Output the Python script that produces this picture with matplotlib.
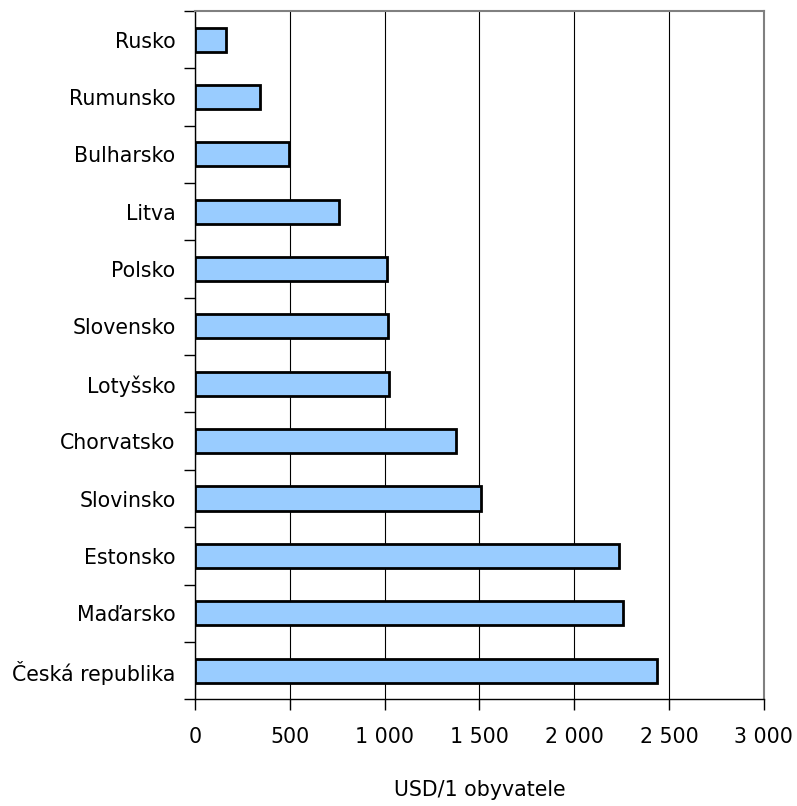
import matplotlib.pyplot as plt
from matplotlib.ticker import FuncFormatter
import numpy as np

# HDP na obyvatele (USD), shora dolu jak v grafu
countries = ["Rusko", "Rumunsko", "Bulharsko", "Litva", "Polsko", "Slovensko",
             "Lotyšsko", "Chorvatsko", "Slovinsko", "Estonsko", "Maďarsko",
             "Česká republika"]
values = [162, 343, 496, 760, 1011, 1020, 1023, 1375, 1510, 2238, 2259, 2435]

plt.rcParams['font.family'] = ['DejaVu Sans']

fig = plt.figure(figsize=(7.97, 8.06), dpi=100)
ax = fig.add_axes([0.2447, 0.1324, 0.9582 - 0.2447, 0.9864 - 0.1324])

y = np.arange(len(countries))
ax.barh(y, values, height=0.42, color='#99ccff', edgecolor='black', linewidth=2, zorder=3)

ax.set_ylim(len(countries) - 0.5, -0.5)
ax.set_xlim(0, 3000)
ax.set_xticks(np.arange(0, 3001, 500))
ax.xaxis.set_major_formatter(FuncFormatter(lambda v, p: f"{int(v):,}".replace(",", " ")))

# popisky kategorii bez ticku, ticky mezi kategoriemi
ax.set_yticks(y)
ax.set_yticklabels(countries, fontsize=14.8)
ax.tick_params(axis='y', length=0, pad=14)
ax.set_yticks(np.arange(-0.5, len(countries), 1), minor=True)
ax.tick_params(axis='y', which='minor', length=8, width=1, direction='out')
ax.tick_params(axis='x', length=8, width=1, labelsize=14.8, pad=12)

ax.grid(axis='x', color='black', linewidth=0.8, zorder=0)
ax.spines['top'].set_color('#808080')
ax.spines['right'].set_color('#808080')
ax.spines['top'].set_linewidth(1.5)
ax.spines['right'].set_linewidth(1.5)
ax.spines['left'].set_linewidth(1)
ax.spines['bottom'].set_linewidth(1)

ax.set_xlabel("USD/1 obyvatele", fontsize=14.8, labelpad=24)

fig.savefig("out.png", dpi=100)
